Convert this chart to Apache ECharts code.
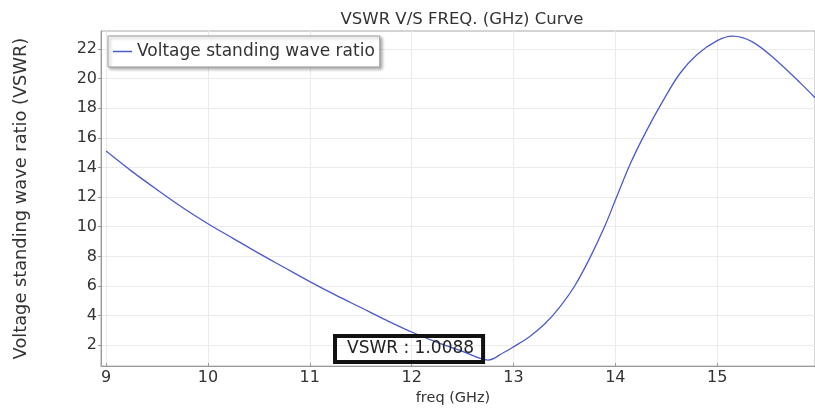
<!DOCTYPE html>
<html>
<head>
<meta charset="utf-8">
<script src="https://cdn.jsdelivr.net/npm/echarts@6/dist/echarts.min.js"></script>
<style>html,body{margin:0;padding:0;background:#fff;}#c{width:815px;height:411px;}</style>
</head>
<body>
<div id="c"></div>
<script>
const freq = [9.0, 9.25, 9.5, 9.75, 10.0, 10.25, 10.5, 10.75, 11.0, 11.25, 11.5, 11.75, 12.0, 12.25, 12.5, 12.75, 12.9, 13.0, 13.15, 13.3, 13.45, 13.6, 13.75, 13.9, 14.0, 14.15, 14.3, 14.46, 14.63, 14.8, 15.0, 15.15, 15.35, 15.6, 15.83, 15.96];
const vswr = [15.1, 13.75, 12.5, 11.3, 10.2, 9.2, 8.2, 7.25, 6.3, 5.4, 4.55, 3.7, 2.9, 2.2, 1.6, 1.0088, 1.5, 1.9, 2.55, 3.4, 4.55, 6.0, 7.9, 10.1, 11.8, 14.3, 16.4, 18.4, 20.3, 21.6, 22.55, 22.85, 22.45, 21.1, 19.6, 18.7];
const xTicks = [9, 10, 11, 12, 13, 14, 15];
const yTicks = [2, 4, 6, 8, 10, 12, 14, 16, 18, 20, 22];
const minPoint = [12.75, 1.0088];
const seriesName = 'Voltage standing wave ratio';

const chart = echarts.init(document.getElementById('c'));
const font = 'DejaVu Sans';
const lineColor = '#4b5acb';
chart.setOption({
  animation: false,
  backgroundColor: '#fff',
  textStyle: { fontFamily: font },
  title: {
    text: 'VSWR V/S FREQ. (GHz) Curve',
    left: 457, textAlign: 'center', top: 6,
    textStyle: { fontFamily: font, fontSize: 16.5, fontWeight: 'normal', color: '#333' }
  },
  legend: {
    left: 108, top: 36,
    backgroundColor: '#fff',
    borderColor: '#999', borderWidth: 1,
    shadowColor: 'rgba(0,0,0,0.3)', shadowBlur: 3, shadowOffsetX: 2, shadowOffsetY: 2,
    padding: [7, 5, 7, 5],
    itemWidth: 19, itemHeight: 1.5,
    textStyle: { fontFamily: font, fontSize: 17, color: '#333' },
    data: [{ name: seriesName, icon: 'rect' }]
  },
  grid: { left: 101, right: -1, top: 31, bottom: 42, containLabel: false, show: true, borderColor: '#aaa', borderWidth: 1 },
  xAxis: {
    type: 'value', min: 8.95, max: 15.96,
    name: 'freq (GHz)', nameLocation: 'middle', nameGap: 23,
    nameTextStyle: { fontFamily: font, fontSize: 14.5, color: '#333', padding: [0, 10, 0, 0] },
    axisLine: { show: true, lineStyle: { color: '#999' } },
    axisTick: { show: true, inside: true, length: 3, customValues: xTicks, lineStyle: { color: '#999' } },
    axisLabel: { customValues: xTicks, fontFamily: font, fontSize: 16, color: '#333', margin: 4 },
    splitLine: { show: true, lineStyle: { color: '#ebebeb' } }
  },
  yAxis: {
    type: 'value', min: 0.6, max: 23.2,
    name: 'Voltage standing wave ratio (VSWR)', nameLocation: 'middle', nameGap: 71, nameRotate: 90,
    nameTextStyle: { fontFamily: font, fontSize: 17.8, color: '#333' },
    axisLine: { show: true, lineStyle: { color: '#999' } },
    axisTick: { show: true, inside: false, length: 3, customValues: yTicks, lineStyle: { color: '#999' } },
    axisLabel: { customValues: yTicks, fontFamily: font, fontSize: 16, color: '#333', margin: 4 },
    splitLine: { show: true, lineStyle: { color: '#ebebeb' } }
  },
  series: [{
    name: seriesName,
    type: 'line',
    data: freq.map((f, i) => [f, vswr[i]]),
    symbol: 'none',
    smooth: 0.35,
    lineStyle: { color: lineColor, width: 1.3 },
    itemStyle: { color: lineColor },
    markPoint: {
      silent: true,
      symbol: 'circle',
      symbolSize: 0,
      label: {
        show: true, position: 'inside',
        offset: [-79, -11],
        formatter: 'VSWR : ' + minPoint[1].toFixed(4),
        fontFamily: font, fontSize: 17, color: '#222',
        backgroundColor: 'rgba(255,255,255,0)',
        borderColor: '#111', borderWidth: 2,
        padding: [5, 9, 4, 12]
      },
      data: [{ coord: minPoint }]
    }
  }]
});
</script>
</body>
</html>
